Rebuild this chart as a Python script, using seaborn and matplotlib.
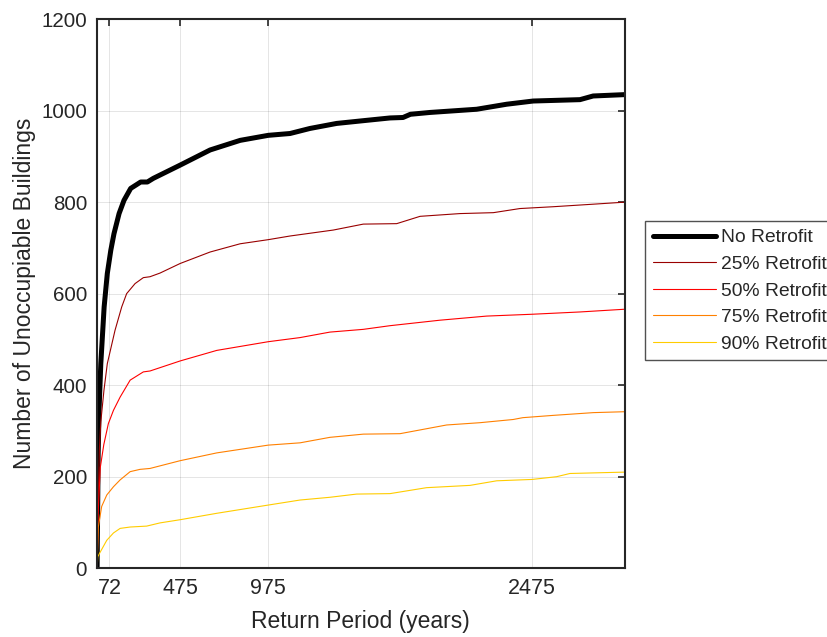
import numpy as np
import pandas as pd
import seaborn as sns
import matplotlib.pyplot as plt

# Return period (years) vs number of unoccupiable buildings
rp_none = [2, 8, 13, 23, 42, 60, 80, 98, 127, 155, 193, 250, 288, 322, 475, 645, 816,
           976, 1100, 1213, 1365, 1516, 1669, 1743, 1785, 1896, 2162, 2333, 2484, 2750,
           2825, 3006]
n_none = [0, 250, 345, 447, 571, 644, 695, 731, 775, 804, 830, 844, 844, 852, 881, 914,
          935, 946, 950, 961, 972, 978, 984, 985, 992, 996, 1003, 1014, 1021, 1024,
          1032, 1035]

rp_25 = [2, 8, 15, 23, 41, 60, 104, 142, 170, 218, 265, 303, 360, 475, 645, 816, 976,
         1100, 1346, 1517, 1707, 1840, 2067, 2257, 2408, 2598, 2845, 3006]
n_25 = [0, 150, 260, 320, 389, 447, 520, 571, 600, 622, 635, 637, 645, 666, 691, 709,
        718, 726, 739, 752, 753, 769, 775, 777, 786, 790, 796, 800]

rp_50 = [2, 8, 20, 40, 66, 95, 133, 190, 265, 303, 475, 683, 976, 1157, 1327, 1517,
         1669, 1953, 2219, 2478, 2750, 3006]
n_50 = [0, 120, 220, 270, 316, 345, 374, 411, 429, 431, 453, 476, 495, 504, 516, 522,
        530, 542, 551, 555, 560, 566]

rp_75 = [2, 9, 28, 57, 95, 133, 190, 246, 303, 475, 683, 976, 1157, 1327, 1517, 1726,
         1991, 2181, 2370, 2425, 2598, 2826, 3006]
n_75 = [0, 90, 135, 160, 178, 193, 211, 216, 218, 235, 252, 269, 274, 286, 293, 294,
        313, 318, 325, 329, 334, 340, 342]

rp_90 = [2, 6, 15, 57, 95, 133, 190, 284, 360, 475, 683, 976, 1157, 1327, 1479, 1669,
         1877, 2124, 2276, 2478, 2617, 2693, 3006]
n_90 = [0, 25, 32, 61, 77, 87, 90, 92, 99, 106, 120, 138, 149, 155, 162, 163, 176, 181,
        191, 194, 200, 207, 210]

labels = ["No Retrofit", "25% Retrofit", "50% Retrofit", "75% Retrofit", "90% Retrofit"]
colors = ["#000000", "#990000", "#ff0000", "#ff8000", "#ffcc00"]
widths = [3.6, 0.8, 0.8, 0.8, 0.8]
xticks = [72, 475, 975, 2475]

series = [(rp_none, n_none), (rp_25, n_25), (rp_50, n_50), (rp_75, n_75), (rp_90, n_90)]

sns.set_style("white")
plt.rcParams['font.family'] = ['Liberation Sans', 'DejaVu Sans']

fig = plt.figure(figsize=(8.27, 6.37), dpi=100)
ax = fig.add_axes([0.117, 0.108, 0.6387, 0.862])

for (x, y), lab, col, lw in zip(series, labels, colors, widths):
    df = pd.DataFrame({"rp": x, "n": y})
    sns.lineplot(data=df, x="rp", y="n", ax=ax, color=col, linewidth=lw, label=lab,
                 estimator=None, sort=False)

ax.set_xlim(0, 3006)
ax.set_ylim(0, 1200)
ax.set_xticks(xticks)
ax.set_yticks(np.arange(0, 1201, 200))
ax.grid(True, color="#000000", alpha=0.12, linewidth=0.6)
ax.tick_params(axis="x", direction="in", length=5, width=1.2, labelsize=15.5,
               colors="#262626", top=True, pad=7)
ax.tick_params(axis="y", direction="in", length=5, width=1.2, labelsize=14.8,
               colors="#262626", right=True, pad=7)
for s in ax.spines.values():
    s.set_color("#262626")
    s.set_linewidth(1.5)

ax.set_xlabel("Return Period (years)", fontsize=16.5, color="#262626", labelpad=8)
ax.set_ylabel("Number of Unoccupiable Buildings", fontsize=16.5, color="#262626",
              labelpad=4)

leg = ax.legend(loc="upper left", bbox_to_anchor=(1.038, 0.632), fontsize=13.9,
                frameon=True, fancybox=False, edgecolor="#262626", handlelength=3.27,
                borderaxespad=0, labelspacing=0.47, handletextpad=0.26, borderpad=0.4)
leg.get_frame().set_linewidth(1.0)

fig.savefig("out.png", dpi=100)
